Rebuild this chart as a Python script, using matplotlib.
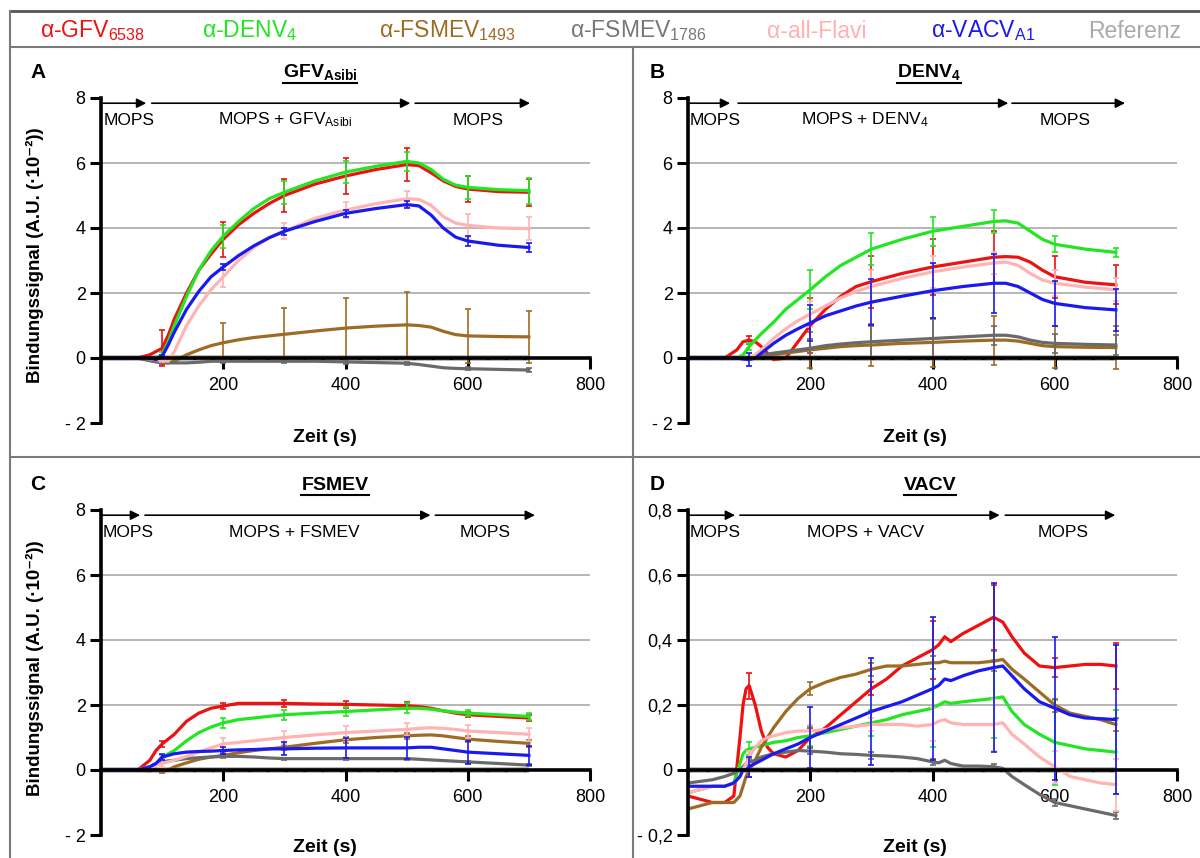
import matplotlib
matplotlib.use("Agg")
import matplotlib.pyplot as plt
from matplotlib.lines import Line2D
from matplotlib import font_manager

W, H = 1200, 858

avail = {f.name for f in font_manager.fontManager.ttflist}
NARROW = 'Liberation Sans Narrow' if 'Liberation Sans Narrow' in avail else 'Liberation Sans'
plt.rcParams['font.family'] = ['Liberation Sans', 'DejaVu Sans']
plt.rcParams['mathtext.default'] = 'regular'

# ---------------- data ----------------
legend_labels = ["α-GFV$_{6538}$", "α-DENV$_{4}$", "α-FSMEV$_{1493}$", "α-FSMEV$_{1786}$",
                 "α-all-Flavi", "α-VACV$_{A1}$", "Referenz"]
series_keys = ["red", "green", "brown", "gray", "pink", "blue"]

t_grid = [0, 60, 80, 90, 100, 110, 120, 140, 160, 180, 200, 225, 250, 275, 300, 350,
          400, 450, 500, 520, 540, 560, 580, 600, 650, 700]
err_t = [100, 200, 300, 400, 500, 600, 700]

# Panel A: GFV Asibi (x 10^-2)
A_red = [0, 0, 0.1, 0.2, 0.3, 0.7, 1.2, 2.0, 2.7, 3.2, 3.65, 4.1, 4.45, 4.75, 5.0, 5.35, 5.6, 5.8, 5.95, 5.92, 5.7, 5.45, 5.28, 5.2, 5.12, 5.1]
A_green = [0, 0, 0, 0.0, 0.1, 0.5, 1.0, 1.9, 2.7, 3.3, 3.75, 4.2, 4.6, 4.9, 5.1, 5.45, 5.72, 5.9, 6.05, 6.0, 5.8, 5.5, 5.32, 5.25, 5.18, 5.15]
A_brown = [0, 0, -0.08, -0.1, -0.12, -0.15, -0.1, 0.1, 0.25, 0.38, 0.47, 0.56, 0.63, 0.68, 0.73, 0.83, 0.92, 0.98, 1.02, 1.0, 0.95, 0.82, 0.72, 0.68, 0.66, 0.65]
A_gray = [0, 0, -0.08, -0.12, -0.15, -0.15, -0.15, -0.15, -0.13, -0.1, -0.1, -0.1, -0.1, -0.1, -0.1, -0.1, -0.12, -0.14, -0.16, -0.2, -0.25, -0.3, -0.32, -0.33, -0.35, -0.37]
A_pink = [0, 0, -0.02, -0.05, -0.08, -0.1, 0.2, 1.0, 1.6, 2.1, 2.5, 3.0, 3.4, 3.7, 3.9, 4.3, 4.55, 4.75, 4.9, 4.88, 4.7, 4.35, 4.15, 4.08, 4.0, 3.98]
A_blue = [0, 0, 0, -0.05, 0.05, 0.4, 0.8, 1.5, 2.05, 2.5, 2.8, 3.15, 3.45, 3.7, 3.9, 4.2, 4.45, 4.6, 4.72, 4.68, 4.4, 4.0, 3.72, 3.6, 3.47, 3.4]
A_ref = [0] * 26
A_red_err = [0.55, 0.55, 0.5, 0.55, 0.5, 0.4, 0.42]
A_green_err = [0.1, 0.35, 0.35, 0.35, 0.3, 0.35, 0.4]
A_brown_err = [0.05, 0.6, 0.82, 0.92, 1.0, 0.82, 0.8]
A_gray_err = [0.03, 0.05, 0.05, 0.05, 0.05, 0.05, 0.05]
A_pink_err = [0.05, 0.3, 0.25, 0.25, 0.25, 0.35, 0.35]
A_blue_err = [0.05, 0.1, 0.1, 0.1, 0.1, 0.15, 0.15]

# Panel B: DENV4
B_red = [0, 0, 0.25, 0.5, 0.55, 0.5, 0.35, -0.05, 0.0, 0.5, 1.0, 1.5, 1.9, 2.2, 2.35, 2.6, 2.8, 2.95, 3.1, 3.12, 3.1, 2.95, 2.7, 2.5, 2.33, 2.25]
B_green = [0, 0, 0, 0.1, 0.35, 0.55, 0.75, 1.1, 1.5, 1.8, 2.1, 2.5, 2.85, 3.1, 3.35, 3.65, 3.9, 4.05, 4.2, 4.22, 4.15, 3.9, 3.65, 3.5, 3.35, 3.25]
B_brown = [0, 0, 0, 0, 0.0, 0.02, 0.05, 0.1, 0.15, 0.2, 0.25, 0.3, 0.35, 0.38, 0.4, 0.45, 0.48, 0.52, 0.55, 0.55, 0.52, 0.45, 0.38, 0.35, 0.33, 0.32]
B_gray = [0, 0, 0, 0, 0.02, 0.05, 0.08, 0.15, 0.2, 0.25, 0.3, 0.38, 0.43, 0.47, 0.5, 0.55, 0.6, 0.65, 0.7, 0.7, 0.65, 0.55, 0.48, 0.45, 0.42, 0.4]
B_pink = [0, 0, 0, 0, 0.0, 0.1, 0.25, 0.6, 0.9, 1.15, 1.35, 1.6, 1.85, 2.05, 2.2, 2.45, 2.65, 2.8, 2.92, 2.95, 2.85, 2.6, 2.4, 2.3, 2.18, 2.1]
B_blue = [0, 0, 0, -0.03, -0.05, 0.0, 0.15, 0.45, 0.7, 0.9, 1.08, 1.3, 1.45, 1.6, 1.72, 1.9, 2.07, 2.2, 2.3, 2.3, 2.2, 2.0, 1.8, 1.68, 1.55, 1.48]
B_ref = [0] * 26
B_red_err = [0.12, 0.85, 0.8, 0.85, 0.8, 0.65, 0.6]
B_green_err = [0.1, 0.6, 0.5, 0.45, 0.35, 0.25, 0.15]
B_brown_err = [0.05, 0.55, 0.65, 0.75, 0.75, 0.65, 0.65]
B_gray_err = [0.05, 0.3, 0.5, 0.6, 0.3, 0.3, 0.3]
B_pink_err = [0.05, 0.4, 0.5, 0.5, 0.35, 0.4, 0.35]
B_blue_err = [0.2, 0.55, 0.7, 0.85, 0.9, 0.7, 0.65]

# Panel C: FSMEV
C_red = [0, 0, 0.3, 0.6, 0.8, 0.95, 1.1, 1.5, 1.75, 1.9, 1.97, 2.05, 2.05, 2.05, 2.05, 2.03, 2.02, 2.0, 1.98, 1.95, 1.9, 1.82, 1.75, 1.7, 1.65, 1.6]
C_green = [0, 0, 0.1, 0.2, 0.35, 0.5, 0.6, 0.9, 1.15, 1.32, 1.45, 1.55, 1.6, 1.65, 1.7, 1.75, 1.8, 1.85, 1.9, 1.9, 1.87, 1.82, 1.78, 1.75, 1.7, 1.65]
C_brown = [0, 0, -0.03, 0.02, -0.05, 0.0, 0.1, 0.22, 0.33, 0.4, 0.45, 0.53, 0.6, 0.65, 0.7, 0.82, 0.93, 1.0, 1.05, 1.07, 1.08, 1.05, 1.0, 0.95, 0.88, 0.82]
C_gray = [0, 0, 0.1, 0.2, 0.25, 0.28, 0.3, 0.35, 0.38, 0.4, 0.42, 0.42, 0.4, 0.37, 0.35, 0.35, 0.35, 0.35, 0.35, 0.33, 0.31, 0.29, 0.27, 0.25, 0.2, 0.15]
C_pink = [0, 0, 0.1, 0.15, 0.2, 0.25, 0.3, 0.42, 0.55, 0.68, 0.8, 0.85, 0.9, 0.95, 1.0, 1.08, 1.15, 1.2, 1.25, 1.28, 1.3, 1.28, 1.25, 1.2, 1.15, 1.1]
C_blue = [0, 0, 0.1, 0.2, 0.4, 0.45, 0.5, 0.55, 0.57, 0.58, 0.6, 0.62, 0.63, 0.65, 0.65, 0.67, 0.68, 0.68, 0.68, 0.7, 0.7, 0.65, 0.6, 0.55, 0.5, 0.45]
C_ref = [0] * 26
C_red_err = [0.08, 0.1, 0.1, 0.1, 0.1, 0.08, 0.08]
C_green_err = [0.1, 0.15, 0.15, 0.15, 0.15, 0.1, 0.1]
C_brown_err = [0.05, 0.08, 0.08, 0.1, 0.1, 0.1, 0.1]
C_gray_err = [0.03, 0.03, 0.03, 0.03, 0.03, 0.03, 0.03]
C_pink_err = [0.1, 0.2, 0.2, 0.2, 0.2, 0.2, 0.2]
C_blue_err = [0.08, 0.12, 0.2, 0.3, 0.35, 0.35, 0.3]

# Panel D: VACV
tD_grid = [0, 20, 40, 60, 75, 85, 90, 95, 100, 110, 120, 130, 140, 160, 180, 200, 225, 250, 275, 300,
           325, 350, 375, 400, 410, 420, 430, 450, 475, 500, 515, 530, 550, 575, 600, 625, 650, 675, 700]
D_red = [-0.08, -0.09, -0.1, -0.1, -0.08, 0.1, 0.2, 0.25, 0.26, 0.2, 0.12, 0.07, 0.05, 0.04, 0.06, 0.1,
         0.13, 0.17, 0.21, 0.25, 0.28, 0.32, 0.345, 0.37, 0.385, 0.41, 0.395, 0.42, 0.445, 0.47, 0.455,
         0.41, 0.36, 0.32, 0.315, 0.32, 0.325, 0.325, 0.32]
D_green = [-0.07, -0.06, -0.05, -0.05, -0.04, 0.02, 0.05, 0.06, 0.065, 0.07, 0.075, 0.08, 0.085, 0.09,
           0.1, 0.105, 0.115, 0.125, 0.135, 0.145, 0.155, 0.17, 0.18, 0.19, 0.2, 0.21, 0.205, 0.21,
           0.215, 0.22, 0.225, 0.18, 0.14, 0.11, 0.085, 0.075, 0.065, 0.06, 0.055]
D_brown = [-0.12, -0.11, -0.1, -0.1, -0.1, -0.08, -0.05, -0.02, 0.0, 0.03, 0.07, 0.1, 0.13, 0.18, 0.22,
           0.25, 0.27, 0.285, 0.295, 0.31, 0.32, 0.32, 0.325, 0.33, 0.33, 0.335, 0.33, 0.33, 0.33, 0.335,
           0.34, 0.31, 0.28, 0.24, 0.2, 0.175, 0.165, 0.155, 0.14]
D_gray = [-0.04, -0.035, -0.03, -0.02, -0.01, 0.0, 0.01, 0.02, 0.025, 0.03, 0.04, 0.045, 0.05, 0.055,
          0.06, 0.058, 0.055, 0.05, 0.048, 0.045, 0.043, 0.04, 0.035, 0.025, 0.022, 0.03, 0.02, 0.012,
          0.012, 0.01, 0.005, -0.02, -0.045, -0.075, -0.1, -0.11, -0.12, -0.13, -0.14]
D_pink = [-0.07, -0.06, -0.05, -0.05, -0.04, -0.02, 0.0, 0.02, 0.04, 0.07, 0.09, 0.1, 0.105, 0.115, 0.12,
          0.12, 0.125, 0.13, 0.135, 0.14, 0.14, 0.14, 0.135, 0.14, 0.15, 0.155, 0.145, 0.14, 0.14, 0.14,
          0.145, 0.11, 0.08, 0.04, 0.01, -0.02, -0.03, -0.04, -0.045]
D_blue = [-0.05, -0.05, -0.05, -0.05, -0.04, -0.02, 0.0, 0.0, 0.01, 0.02, 0.03, 0.04, 0.05, 0.065, 0.08,
          0.1, 0.12, 0.14, 0.16, 0.18, 0.195, 0.21, 0.23, 0.25, 0.26, 0.28, 0.275, 0.29, 0.305, 0.315,
          0.32, 0.29, 0.25, 0.21, 0.19, 0.17, 0.16, 0.158, 0.155]
D_ref = [0] * 39
D_red_err = [0.04, 0.03, 0.02, 0.09, 0.1, 0.03, 0.07]
D_green_err = [0.02, 0.03, 0.04, 0.12, 0.12, 0.13, 0.13]
D_brown_err = [0.02, 0.02, 0.02, 0.02, 0.03, 0.02, 0.02]
D_gray_err = [0.01, 0.01, 0.01, 0.01, 0.01, 0.01, 0.01]
D_pink_err = [0.02, 0.02, 0.02, 0.05, 0.08, 0.05, 0.08]
D_blue_err = [0.03, 0.095, 0.165, 0.22, 0.26, 0.22, 0.23]

# ---------------- styling ----------------
colors = {"red": "#ee1111", "green": "#22e622", "brown": "#9e6b24", "gray": "#6a6a6a",
          "pink": "#ffb3b3", "blue": "#1a1aee", "ref": "#a8a8a8"}
legend_colors = ["#ee1111", "#22e622", "#9e6b24", "#777777", "#ffb0b0", "#1a1aee", "#aaaaaa"]
legend_x = [93, 250, 447, 638, 817, 983, 1135]

fig = plt.figure(figsize=(W / 100, H / 100), dpi=100)


def fx(x):
    return x / W


def fy(y):
    return 1 - y / H


# borders
border_c = "#7a7a7a"
for (x1, y1, x2, y2, lw, c) in [(10, 11, 1200, 11, 2.0, "#555555"), (10, 11, 10, 858, 1.5, border_c),
                                (10, 47, 1200, 47, 1.5, border_c), (633, 47, 633, 858, 1.5, border_c),
                                (10, 457, 1200, 457, 1.5, border_c)]:
    fig.add_artist(Line2D([fx(x1), fx(x2)], [fy(y1), fy(y2)], color=c, lw=lw))

for lab, c, x in zip(legend_labels, legend_colors, legend_x):
    fig.text(fx(x), fy(31), lab, color=c, fontsize=16.5, ha='center', va='center',
             family=[NARROW, 'DejaVu Sans'])


def make_ax(x0, ytop, ybot):
    return fig.add_axes([fx(x0), fy(ybot), 489 / W, (ybot - ytop) / H])


panels = [
    dict(ax=make_ax(101, 98, 423), t=t_grid, ylim=(-2, 8), yt=[-2, 0, 2, 4, 6, 8],
         ytl=["- 2", "0", "2", "4", "6", "8"],
         data=[A_red, A_green, A_brown, A_gray, A_pink, A_blue], ref=A_ref,
         err=[A_red_err, A_green_err, A_brown_err, A_gray_err, A_pink_err, A_blue_err],
         arrows=[(3, 74), (83, 506), (514, 702)],
         labels=[(5, "MOPS", 'left'), (301, "MOPS + GFV$_{Asibi}$", 'center'), (617, "MOPS", 'center')],
         letter=("A", 38, 72), title=("GFV$_{Asibi}$", 320, 72), xl=(325, 437)),
    dict(ax=make_ax(688, 98, 423), t=t_grid, ylim=(-2, 8), yt=[-2, 0, 2, 4, 6, 8],
         ytl=["- 2", "0", "2", "4", "6", "8"],
         data=[B_red, B_green, B_brown, B_gray, B_pink, B_blue], ref=B_ref,
         err=[B_red_err, B_green_err, B_brown_err, B_gray_err, B_pink_err, B_blue_err],
         arrows=[(3, 69), (82, 524), (530, 715)],
         labels=[(3, "MOPS", 'left'), (290, "MOPS + DENV$_{4}$", 'center'), (617, "MOPS", 'center')],
         letter=("B", 657, 72), title=("DENV$_{4}$", 929, 72), xl=(915, 437)),
    dict(ax=make_ax(101, 510, 835), t=t_grid, ylim=(-2, 8), yt=[-2, 0, 2, 4, 6, 8],
         ytl=["- 2", "0", "2", "4", "6", "8"],
         data=[C_red, C_green, C_brown, C_gray, C_pink, C_blue], ref=C_ref,
         err=[C_red_err, C_green_err, C_brown_err, C_gray_err, C_pink_err, C_blue_err],
         arrows=[(0, 64), (72, 539), (547, 710)],
         labels=[(3, "MOPS", 'left'), (317, "MOPS + FSMEV", 'center'), (628, "MOPS", 'center')],
         letter=("C", 38, 485), title=("FSMEV", 335, 485), xl=(325, 848)),
    dict(ax=make_ax(688, 510, 835), t=tD_grid, ylim=(-0.2, 0.8), yt=[-0.2, 0, 0.2, 0.4, 0.6, 0.8],
         ytl=["- 0,2", "0", "0,2", "0,4", "0,6", "0,8"],
         data=[D_red, D_green, D_brown, D_gray, D_pink, D_blue], ref=D_ref,
         err=[D_red_err, D_green_err, D_brown_err, D_gray_err, D_pink_err, D_blue_err],
         arrows=[(3, 77), (85, 510), (519, 699)],
         labels=[(3, "MOPS", 'left'), (291, "MOPS + VACV", 'center'), (614, "MOPS", 'center')],
         letter=("D", 657, 485), title=("VACV", 930, 485), xl=(915, 848)),
]

draw_order = [0, 1, 2, 3, 4, 5]
titles = []
for p in panels:
    ax = p["ax"]
    y0, y1 = p["ylim"]
    span = y1 - y0
    ax.set_xlim(0, 800)
    ax.set_ylim(y0, y1)
    ax.patch.set_alpha(0)
    for s in ["top", "right"]:
        ax.spines[s].set_visible(False)
    ax.spines["left"].set_linewidth(2.6)
    ax.spines["bottom"].set_linewidth(2.6)
    ax.spines["bottom"].set_position(("data", 0))
    ax.set_xticks([200, 400, 600, 800])
    ax.set_yticks(p["yt"])
    ax.set_yticklabels(p["ytl"])
    ax.tick_params(axis='y', direction='out', length=8, width=2.2, labelsize=13, pad=3)
    ax.tick_params(axis='x', direction='out', length=8, width=2.2, labelsize=13, pad=6)
    for g in p["yt"][2:-1]:
        ax.axhline(g, xmin=0, xmax=1, color="#b5b5b5", lw=1.4, zorder=0.5)

    t = p["t"]
    # reference
    ax.plot(t, p["ref"], color=colors["ref"], lw=4, zorder=1, solid_capstyle='butt')
    ax.plot(t, p["ref"], color="black", lw=2.2, ls=(0, (1, 5)), zorder=1.1)
    for i in draw_order:
        key = series_keys[i]
        vals = p["data"][i]
        ax.plot(t, vals, color=colors[key], lw=2.3, zorder=2 + i * 0.1)
        ev = [vals[t.index(et)] for et in err_t]
        ax.errorbar(err_t, ev, yerr=p["err"][i], fmt='none', ecolor=colors[key], elinewidth=1.2,
                    capsize=2.5, capthick=1.2, zorder=2 + i * 0.1)

    ya = y1 - 0.016 * span
    for (a, b) in p["arrows"]:
        ax.annotate('', xy=(b, ya), xytext=(a, ya), annotation_clip=False,
                    arrowprops=dict(arrowstyle='-|>', color='black', lw=1.2, mutation_scale=14,
                                    shrinkA=0, shrinkB=0))
    yl = y1 - 0.068 * span
    for (x, s, ha) in p["labels"]:
        ax.text(x, yl, s, ha=ha, va='center', fontsize=12.5, clip_on=False)

    L, lx, ly = p["letter"]
    fig.text(fx(lx), fy(ly), L, fontsize=15, fontweight='bold', ha='center', va='center')
    T, tx, ty = p["title"]
    titles.append(fig.text(fx(tx), fy(ty), T, fontsize=14, fontweight='bold', ha='center', va='center'))
    xl_x, xl_y = p["xl"]
    fig.text(fx(xl_x), fy(xl_y), "Zeit (s)", fontsize=14, fontweight='bold', ha='center', va='center')

for yc in [255, 668]:
    fig.text(fx(35), fy(yc), "Bindungssignal (A.U. (·10⁻²))", rotation=90, fontsize=13.5,
             fontweight='bold', ha='center', va='center')

# underline titles
fig.canvas.draw()
r = fig.canvas.get_renderer()
for ttl in titles:
    bb = ttl.get_window_extent(r)
    yline = bb.y0 - 1
    fig.add_artist(Line2D([bb.x0 / W, bb.x1 / W], [yline / H, yline / H], color='black', lw=1.5))

fig.savefig("out.png", dpi=100)
